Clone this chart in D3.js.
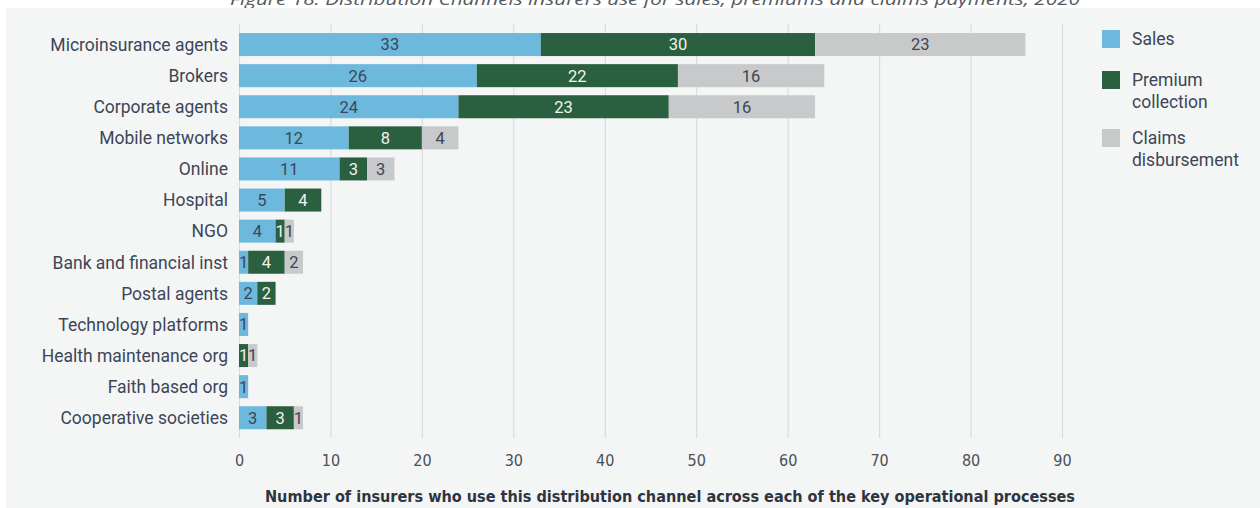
<!DOCTYPE html>
<html>
<head>
<meta charset="utf-8">
<script src="https://cdn.jsdelivr.net/npm/d3@7"></script>
<style>
  html, body { margin: 0; padding: 0; background: #ffffff; }
  svg { display: block; }
</style>
</head>
<body>
<svg id="chart" width="1260" height="508"></svg>
<script>
const titleText = "Figure 18: Distribution Channels insurers use for sales, premiums and claims payments, 2020";
const categories = ["Microinsurance agents", "Brokers", "Corporate agents", "Mobile networks", "Online", "Hospital", "NGO", "Bank and financial inst", "Postal agents", "Technology platforms", "Health maintenance org", "Faith based org", "Cooperative societies"];
const sales    = [33, 26, 24, 12, 11, 5, 4, 1, 2, 1, 0, 1, 3];
const premium  = [30, 22, 23, 8, 3, 4, 1, 4, 2, 0, 1, 0, 3];
const claims   = [23, 16, 16, 4, 3, 0, 1, 2, 0, 0, 1, 0, 1];
const seriesNames = ["Sales", "Premium collection", "Claims disbursement"];
const legendLines = [["Sales"], ["Premium", "collection"], ["Claims", "disbursement"]];
const xTicks = [0, 10, 20, 30, 40, 50, 60, 70, 80, 90];
const axisTitle = "Number of insurers who use this distribution channel across each of the key operational processes";

const colors = ["#6db9de", "#2a6040", "#c8c9cb"];
const labelColors = ["#3d4556", "#f2f2ee", "#3d4556"];

const svg = d3.select("#chart");
const W = 1260, H = 508;

// panel background
svg.append("rect").attr("x", 6).attr("y", 8).attr("width", W - 6).attr("height", H - 8).attr("fill", "#f4f6f6");

// title (clipped at the top edge as in the reference)
svg.append("text")
  .attr("x", 655).attr("y", 5)
  .attr("text-anchor", "middle")
  .attr("font-family", "'Open Sans', sans-serif")
  .attr("font-style", "italic")
  .attr("font-size", 17)
  .attr("fill", "#555a60")
  .attr("textLength", 850).attr("lengthAdjust", "spacingAndGlyphs")
  .text(titleText);
svg.append("rect").attr("x", 6).attr("y", 8).attr("width", W - 6).attr("height", 4).attr("fill", "#f4f6f6");

const x = d3.scaleLinear().domain([0, 90]).range([239, 1062]);
const y = d3.scaleBand().domain(categories).range([29, 433.3]).paddingInner(0.26).paddingOuter(0.13);

// gridlines
svg.append("g").selectAll("line").data(xTicks).join("line")
  .attr("x1", d => x(d) + 0.5).attr("x2", d => x(d) + 0.5)
  .attr("y1", 24).attr("y2", 438)
  .attr("stroke", "#d9dbdc").attr("stroke-width", 1.2);

// stack
const rows = categories.map((c, i) => ({ cat: c, s0: sales[i], s1: premium[i], s2: claims[i] }));
const stack = d3.stack().keys(["s0", "s1", "s2"])(rows);

const gBars = svg.append("g");
stack.forEach((layer, k) => {
  gBars.append("g").selectAll("rect").data(layer.filter(d => d[1] - d[0] > 0)).join("rect")
    .attr("x", d => x(d[0]))
    .attr("y", d => y(d.data.cat))
    .attr("width", d => x(d[1]) - x(d[0]))
    .attr("height", y.bandwidth())
    .attr("fill", colors[k]);
});
stack.forEach((layer, k) => {
  gBars.append("g").selectAll("text").data(layer.filter(d => d[1] - d[0] > 0)).join("text")
    .attr("x", d => (x(d[0]) + x(d[1])) / 2)
    .attr("y", d => y(d.data.cat) + y.bandwidth() / 2)
    .attr("dy", "0.36em")
    .attr("text-anchor", "middle")
    .attr("font-family", "Roboto, sans-serif")
    .attr("font-size", 16.5)
    .attr("fill", labelColors[k])
    .text(d => d[1] - d[0]);
});

// category labels
svg.append("g").selectAll("text").data(categories).join("text")
  .attr("x", 228)
  .attr("y", d => y(d) + y.bandwidth() / 2)
  .attr("dy", "0.36em")
  .attr("text-anchor", "end")
  .attr("font-family", "Roboto, sans-serif")
  .attr("font-size", 17.5)
  .attr("fill", "#3d4556")
  .text(d => d);

// x axis tick labels
const xAxis = d3.axisBottom(x).tickValues(xTicks).tickSize(0).tickPadding(0);
const gx = svg.append("g").attr("transform", "translate(0,455)").call(xAxis);
gx.select(".domain").remove();
gx.selectAll("text")
  .attr("font-family", "'DejaVu Sans Condensed', 'DejaVu Sans', sans-serif")
  .attr("font-size", 16)
  .attr("fill", "#4a4f58");

// axis title
svg.append("text")
  .attr("x", 670).attr("y", 502)
  .attr("text-anchor", "middle")
  .attr("font-family", "'DejaVu Sans Condensed', 'DejaVu Sans', sans-serif")
  .attr("font-weight", "bold")
  .attr("font-size", 15)
  .attr("fill", "#2e3440")
  .attr("textLength", 810).attr("lengthAdjust", "spacingAndGlyphs")
  .text(axisTitle);

// legend
const legendY = [30, 71, 129];
const lg = svg.append("g");
seriesNames.forEach((name, i) => {
  lg.append("rect").attr("x", 1102).attr("y", legendY[i]).attr("width", 18).attr("height", 18).attr("fill", colors[i]);
  legendLines[i].forEach((line, j) => {
    lg.append("text")
      .attr("x", 1132).attr("y", legendY[i] + 15 + j * 22)
      .attr("font-family", "Roboto, sans-serif")
      .attr("font-size", 17.5)
      .attr("fill", "#3d4556")
      .text(line);
  });
});
</script>
</body>
</html>
